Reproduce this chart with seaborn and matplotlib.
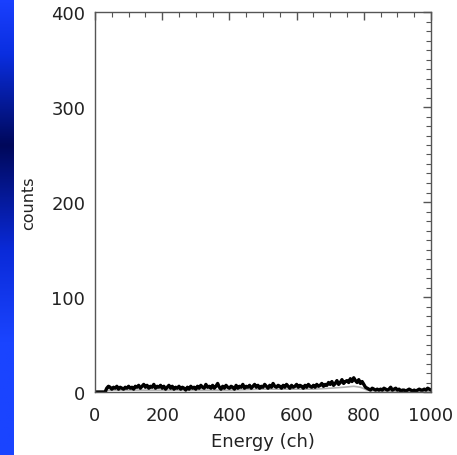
import numpy as np
import pandas as pd
import matplotlib
matplotlib.use("Agg")
import matplotlib.pyplot as plt
from matplotlib.colors import LinearSegmentedColormap
from matplotlib.ticker import MultipleLocator
import seaborn as sns

# ---- data ----
channels = list(range(0, 1001, 5))
counts = [
    0, 0, 0, 0, 0, 0, 0, 4, 6, 5,
    3, 5, 4, 6, 3, 5, 4, 3, 5, 4,
    6, 4, 5, 3, 6, 5, 7, 4, 6, 8,
    5, 7, 4, 6, 5, 8, 4, 6, 5, 7,
    4, 6, 3, 5, 7, 4, 6, 3, 5, 4,
    6, 3, 5, 4, 2, 5, 3, 6, 4, 5,
    3, 6, 4, 7, 5, 4, 8, 5, 6, 4,
    7, 4, 6, 9, 5, 3, 6, 4, 7, 5,
    4, 6, 5, 3, 7, 4, 6, 5, 8, 4,
    6, 5, 7, 4, 6, 8, 5, 7, 4, 6,
    5, 8, 6, 4, 7, 5, 9, 6, 5, 7,
    6, 4, 7, 5, 8, 6, 4, 7, 5, 6,
    8, 5, 7, 6, 4, 7, 5, 8, 6, 5,
    7, 5, 8, 6, 7, 9, 6, 8, 7, 10,
    8, 11, 7, 9, 12, 8, 10, 13, 9, 11,
    12, 10, 14, 11, 15, 12, 10, 13, 9, 11,
    8, 5, 4, 3, 2, 4, 3, 2, 3, 2,
    3, 2, 4, 3, 2, 3, 5, 2, 3, 4,
    2, 3, 1, 2, 2, 1, 2, 3, 2, 1,
    2, 1, 2, 3, 2, 2, 3, 2, 4, 3,
    2,
]
model_channels = [0, 30, 40, 100, 200, 300, 400, 500, 600, 650, 700, 740, 770, 790, 810, 850, 900, 1000]
model_counts = [0, 0, 2, 2, 2, 2, 2, 3, 3, 3, 4, 5, 6, 5, 2, 1, 1, 1]

x_ticks = [0, 200, 400, 600, 800, 1000]
y_ticks = [0, 100, 200, 300, 400]

df = pd.DataFrame({"Energy": channels, "counts": counts})
dm = pd.DataFrame({"Energy": model_channels, "counts": model_counts})

sns.set_style("white")
plt.rcParams["font.family"] = ["DejaVu Sans"]

fig = plt.figure(figsize=(4.57, 4.56), dpi=100)

# blue slide strip on the left
strip = fig.add_axes([0, 0, 14 / 457, 1])
cmap = LinearSegmentedColormap.from_list(
    "slide", [(0.0, "#1a40ff"), (0.12, "#0a2ee0"), (0.32, "#00085a"),
              (0.55, "#0a2ad8"), (0.75, "#1a44ff"), (1.0, "#1a44ff")])
strip.imshow(np.linspace(0, 1, 256).reshape(-1, 1), aspect="auto", cmap=cmap)
strip.set_axis_off()

ax = fig.add_axes([95 / 457, 1 - 393 / 456, 336 / 457, 380 / 456])
sns.lineplot(data=dm, x="Energy", y="counts", ax=ax, color="#b0b0b0", linewidth=1.2)
sns.lineplot(data=df, x="Energy", y="counts", ax=ax, color="black", linewidth=2.4)

ax.set_xlim(0, 1000)
ax.set_ylim(0, 400)
ax.set_xticks(x_ticks)
ax.set_yticks(y_ticks)
ax.xaxis.set_minor_locator(MultipleLocator(50))
ax.yaxis.set_minor_locator(MultipleLocator(10))
ax.tick_params(which="both", direction="in", top=True, right=True, color="#555555")
ax.tick_params(which="major", length=6, width=1)
ax.tick_params(which="minor", length=3.5, width=0.8)
ax.tick_params(axis="x", which="major", pad=10, labelsize=13, labelcolor="#222222")
ax.tick_params(axis="y", which="major", pad=7, labelsize=13, labelcolor="#222222")
for s in ax.spines.values():
    s.set_color("#555555")
    s.set_linewidth(1)
ax.set_xlabel("Energy (ch)", fontsize=13, color="#222222", labelpad=6)
ax.set_ylabel("counts", fontsize=11.5, color="#222222", labelpad=11)

fig.savefig("out.png", dpi=100)
